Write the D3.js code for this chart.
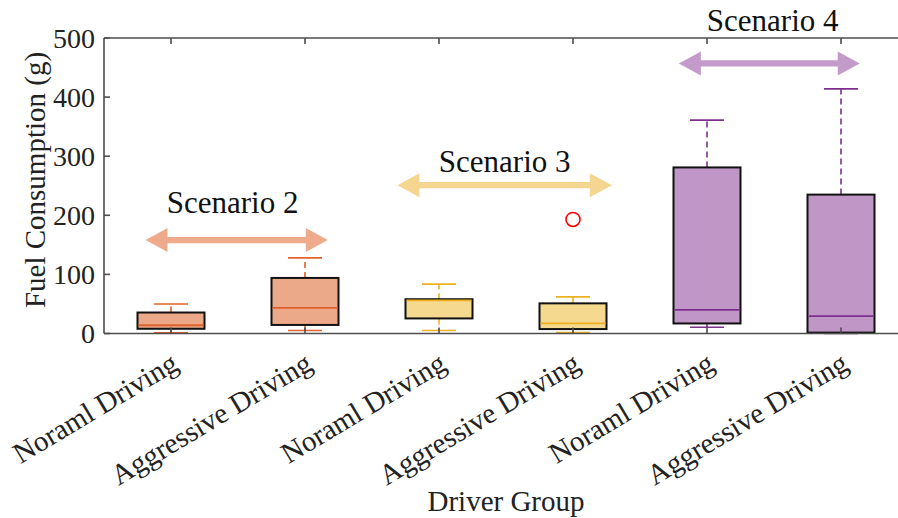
<!DOCTYPE html>
<html>
<head>
<meta charset="utf-8">
<script src="https://cdn.jsdelivr.net/npm/d3@7"></script>
<style>
  html, body { margin: 0; padding: 0; background: #fff; }
  svg { display: block; font-family: "Liberation Serif", "Times New Roman", serif; }
</style>
</head>
<body>
<svg id="chart" width="898" height="518"></svg>
<script>
// Driver groups (one box per group)
const categories = ["Noraml Driving", "Aggressive Driving", "Noraml Driving",
                    "Aggressive Driving", "Noraml Driving", "Aggressive Driving"];
const scenarioOf = [2, 2, 3, 3, 4, 4];

// Box statistics, fuel consumption in grams
const lowerWhisker = [1, 5, 5, 1.5, 10.5, 0];
const q1           = [8, 14.5, 25.5, 7.5, 17, 1.5];
const medians      = [14, 43.5, 56, 17, 40, 29.5];
const q3           = [35.5, 94, 58, 51, 281, 235];
const upperWhisker = [50, 128, 83.5, 62, 361, 414];

// Outliers: [group index, value]
const outliers = [[3, 193]];

// Y-axis ticks
const yTicks = [0, 100, 200, 300, 400, 500];

// Scenario brackets: span in group units, height and label height in grams
const scenarios     = [2, 3, 4];
const spanFrom      = [-0.19, 1.69, 3.79];
const spanTo        = [1.17, 3.29, 5.14];
const arrowLevel    = [158, 251, 457];
const labelLevel    = [204, 274, 512];
const labelAt       = [0.46, 2.49, 4.49];

// Colour scheme per scenario
const fillColor  = {2: "#EBA98A", 3: "#F5D98E", 4: "#BF96C6"};
const lineColor  = {2: "#E0622A", 3: "#EDB120", 4: "#7E2F8E"};
const arrowColor = {2: "#EDAB8C", 3: "#F4D690", 4: "#C39ACA"};

const svg = d3.select("#chart");
const margin = {left: 104, top: 38};
const step = 134;
const plotRight = margin.left + step * categories.length;

const x = d3.scaleLinear().domain([-0.5, categories.length - 0.5])
  .range([margin.left, plotRight]);
const y = d3.scaleLinear().domain([0, 500]).range([333.5, margin.top]);

const boxW = 67, capW = 34;
const axisColor = "#4d4d4d";

// Boxes
const g = svg.append("g");
categories.forEach((c, i) => {
  const s = scenarioOf[i];
  const cx = x(i);
  // whiskers
  g.append("line").attr("x1", cx).attr("x2", cx)
    .attr("y1", y(q3[i])).attr("y2", y(upperWhisker[i]))
    .attr("stroke", lineColor[s]).attr("stroke-width", 1.6).attr("stroke-dasharray", "6,4");
  g.append("line").attr("x1", cx).attr("x2", cx)
    .attr("y1", y(q1[i])).attr("y2", y(lowerWhisker[i]))
    .attr("stroke", lineColor[s]).attr("stroke-width", 1.6).attr("stroke-dasharray", "6,4");
  // caps
  [upperWhisker[i], lowerWhisker[i]].forEach(v => {
    g.append("line").attr("x1", cx - capW / 2).attr("x2", cx + capW / 2)
      .attr("y1", y(v)).attr("y2", y(v))
      .attr("stroke", lineColor[s]).attr("stroke-width", 1.6);
  });
  // box
  g.append("rect").attr("x", cx - boxW / 2).attr("width", boxW)
    .attr("y", y(q3[i])).attr("height", y(q1[i]) - y(q3[i]))
    .attr("fill", fillColor[s]).attr("stroke", "#111").attr("stroke-width", 2);
  // median
  g.append("line").attr("x1", cx - boxW / 2 + 1).attr("x2", cx + boxW / 2 - 1)
    .attr("y1", y(medians[i])).attr("y2", y(medians[i]))
    .attr("stroke", lineColor[s]).attr("stroke-width", 1.8);
});

// Outliers
outliers.forEach(([i, v]) => {
  svg.append("circle").attr("cx", x(i)).attr("cy", y(v)).attr("r", 7)
    .attr("fill", "none").attr("stroke", "#FF0000").attr("stroke-width", 1.6);
});

// Axes frame and ticks
const frame = svg.append("g").attr("stroke", axisColor).attr("stroke-width", 1.6).attr("fill", "none");
frame.append("line").attr("x1", margin.left).attr("x2", margin.left).attr("y1", y(500)).attr("y2", y(0));
frame.append("line").attr("x1", margin.left).attr("x2", plotRight).attr("y1", y(0)).attr("y2", y(0));
frame.append("line").attr("x1", margin.left).attr("x2", plotRight).attr("y1", y(500)).attr("y2", y(500));
frame.append("line").attr("x1", plotRight).attr("x2", plotRight).attr("y1", y(500)).attr("y2", y(0));
const tickLen = 6;
yTicks.forEach(t => {
  frame.append("line").attr("x1", margin.left).attr("x2", margin.left + tickLen)
    .attr("y1", y(t)).attr("y2", y(t));
  frame.append("line").attr("x1", plotRight).attr("x2", plotRight - tickLen)
    .attr("y1", y(t)).attr("y2", y(t));
});
categories.forEach((c, i) => {
  frame.append("line").attr("x1", x(i)).attr("x2", x(i)).attr("y1", y(500)).attr("y2", y(500) + tickLen);
  frame.append("line").attr("x1", x(i)).attr("x2", x(i)).attr("y1", y(0)).attr("y2", y(0) - tickLen);
});

// Y tick labels
svg.append("g").selectAll("text").data(yTicks).join("text")
  .attr("x", margin.left - 9).attr("y", d => y(d)).attr("dy", "0.35em")
  .attr("text-anchor", "end").attr("font-size", 28).attr("fill", "#222")
  .text(d => d);

// X tick labels, rotated
svg.append("g").selectAll("text").data(categories).join("text")
  .attr("transform", (d, i) => `translate(${x(i) + 9},${y(0) + 35}) rotate(-31)`)
  .attr("text-anchor", "end").attr("font-size", 29).attr("fill", "#222")
  .text(d => d);

// Axis titles
svg.append("text").attr("x", (margin.left + plotRight) / 2).attr("y", 511)
  .attr("text-anchor", "middle").attr("font-size", 29).attr("fill", "#222")
  .text("Driver Group");
svg.append("text").attr("transform", `translate(45,180) rotate(-90)`)
  .attr("text-anchor", "middle").attr("font-size", 29).attr("fill", "#222")
  .text("Fuel Consumption (g)");

// Scenario brackets: double-headed arrows with labels
const headL = 22, headH = 12, shaftH = 3.2;
scenarios.forEach((s, k) => {
  const x0 = x(spanFrom[k]), x1 = x(spanTo[k]), yy = y(arrowLevel[k]);
  const pts = [
    [x0, yy], [x0 + headL, yy - headH], [x0 + headL, yy - shaftH],
    [x1 - headL, yy - shaftH], [x1 - headL, yy - headH], [x1, yy],
    [x1 - headL, yy + headH], [x1 - headL, yy + shaftH],
    [x0 + headL, yy + shaftH], [x0 + headL, yy + headH]
  ];
  svg.append("path").attr("d", d3.line()(pts) + "Z").attr("fill", arrowColor[s]);
  svg.append("text").attr("x", x(labelAt[k])).attr("y", y(labelLevel[k]))
    .attr("text-anchor", "middle").attr("font-size", 31).attr("fill", "#111")
    .text("Scenario " + s);
});
</script>
</body>
</html>
